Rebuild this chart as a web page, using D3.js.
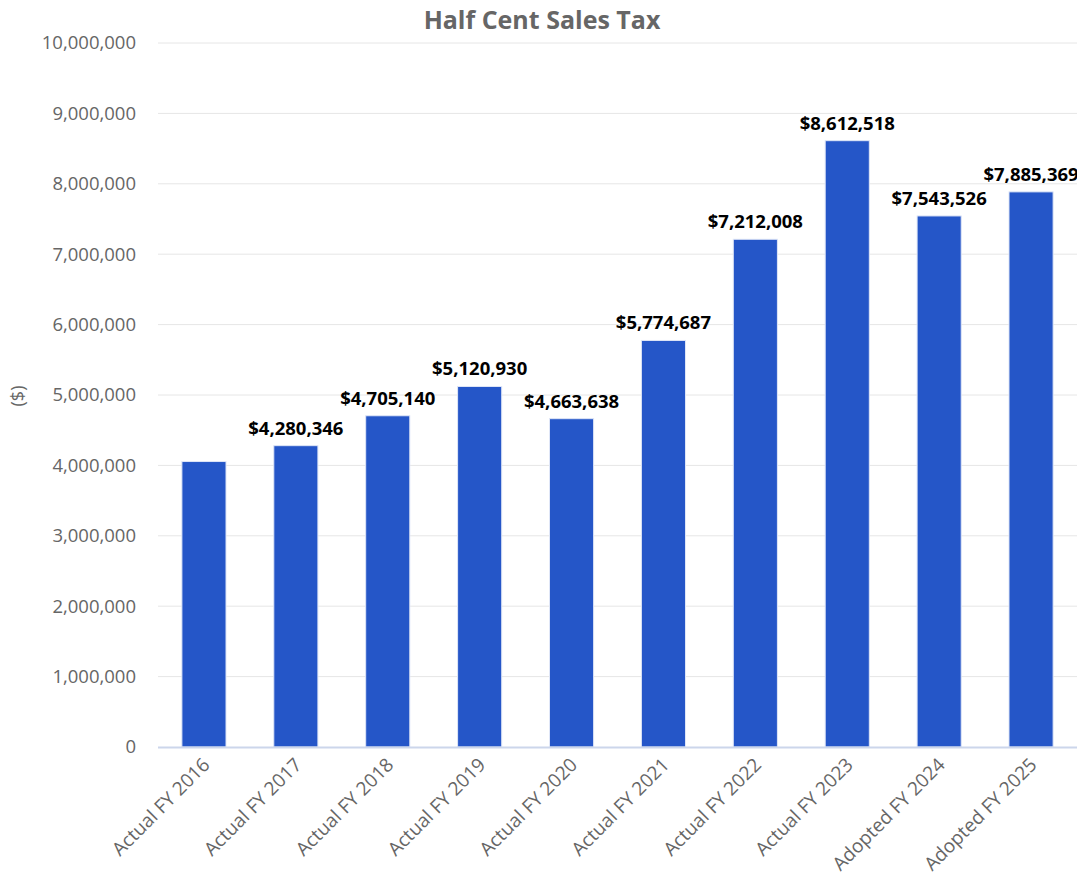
<!DOCTYPE html>
<html>
<head>
<meta charset="utf-8">
<script src="https://cdn.jsdelivr.net/npm/d3@7"></script>
<style>
  body { margin: 0; background: #fff; }
  text { font-family: "Open Sans", sans-serif; }
</style>
</head>
<body>
<main></main>
<script>
// chart data
const categories = ["Actual FY 2016", "Actual FY 2017", "Actual FY 2018", "Actual FY 2019", "Actual FY 2020",
                    "Actual FY 2021", "Actual FY 2022", "Actual FY 2023", "Adopted FY 2024", "Adopted FY 2025"];
const values = [4055000, 4280346, 4705140, 5120930, 4663638, 5774687, 7212008, 8612518, 7543526, 7885369];
const showLabel = [false, true, true, true, true, true, true, true, true, true];
const yTicks = [0, 1000000, 2000000, 3000000, 4000000, 5000000, 6000000, 7000000, 8000000, 9000000, 10000000];

const W = 1077, H = 882;
const margin = { top: 43, right: 0, bottom: 135, left: 158 };

const svg = d3.select("main").append("svg")
              .attr("width", W)
              .attr("height", H);

const x = d3.scaleBand()
            .domain(categories)
            .range([margin.left, W - margin.right])
            .paddingInner(0.52)
            .paddingOuter(0.26);

const y = d3.scaleLinear()
            .domain([0, 10000000])
            .range([H - margin.bottom, margin.top]);

// grid lines
svg.append("g").selectAll("line")
   .data(yTicks.slice(1))
   .enter().append("line")
   .attr("x1", margin.left).attr("x2", W - margin.right)
   .attr("y1", d => y(d)).attr("y2", d => y(d))
   .attr("stroke", "#e6e6e6").attr("stroke-width", 1);

// y axis labels
const yAxis = svg.append("g")
                 .attr("transform", `translate(${margin.left - 22},0)`)
                 .call(d3.axisLeft(y).tickValues(yTicks).tickFormat(d3.format(",")).tickSize(0).tickPadding(0));
yAxis.select(".domain").remove();
yAxis.selectAll("text")
     .attr("font-family", "'Open Sans', sans-serif")
     .attr("font-size", 18.5)
     .attr("fill", "#666");

// bars
const barData = values.map((v, i) => ({ cat: categories[i], value: v, label: showLabel[i] }));

svg.append("g").selectAll("rect")
   .data(barData)
   .enter().append("rect")
   .attr("x", d => x(d.cat))
   .attr("y", d => y(d.value))
   .attr("width", x.bandwidth())
   .attr("height", d => y(0) - y(d.value))
   .attr("fill", "#2556c8")
   .attr("stroke", "#dfe6f7")
   .attr("stroke-width", 1);

// x axis line
svg.append("line")
   .attr("x1", margin.left).attr("x2", W - margin.right)
   .attr("y1", y(0) + 0.5).attr("y2", y(0) + 0.5)
   .attr("stroke", "#ccd6eb").attr("stroke-width", 2);

// x axis labels
svg.append("g").selectAll("text")
   .data(categories)
   .enter().append("text")
   .text(d => d)
   .attr("transform", d => `translate(${x(d) + x.bandwidth() / 2 + 7},${y(0) + 19}) rotate(-45)`)
   .attr("text-anchor", "end")
   .attr("font-size", 19)
   .attr("fill", "#666");

// data labels
svg.append("g").selectAll("text")
   .data(barData.filter(d => d.label))
   .enter().append("text")
   .text(d => "$" + d3.format(",")(d.value))
   .attr("x", d => x(d.cat) + x.bandwidth() / 2)
   .attr("y", d => y(d.value) - 11)
   .attr("text-anchor", "middle")
   .attr("font-size", 18.5)
   .attr("font-weight", "bold")
   .attr("fill", "#000");

// title
svg.append("text")
   .text("Half Cent Sales Tax")
   .attr("x", 542).attr("y", 29)
   .attr("text-anchor", "middle")
   .attr("font-size", 25)
   .attr("font-weight", "bold")
   .attr("fill", "#666");

// y axis title
svg.append("text")
   .text("($)")
   .attr("transform", "translate(24,396) rotate(-90)")
   .attr("text-anchor", "middle")
   .attr("font-size", 18)
   .attr("fill", "#666");
</script>
</body>
</html>
